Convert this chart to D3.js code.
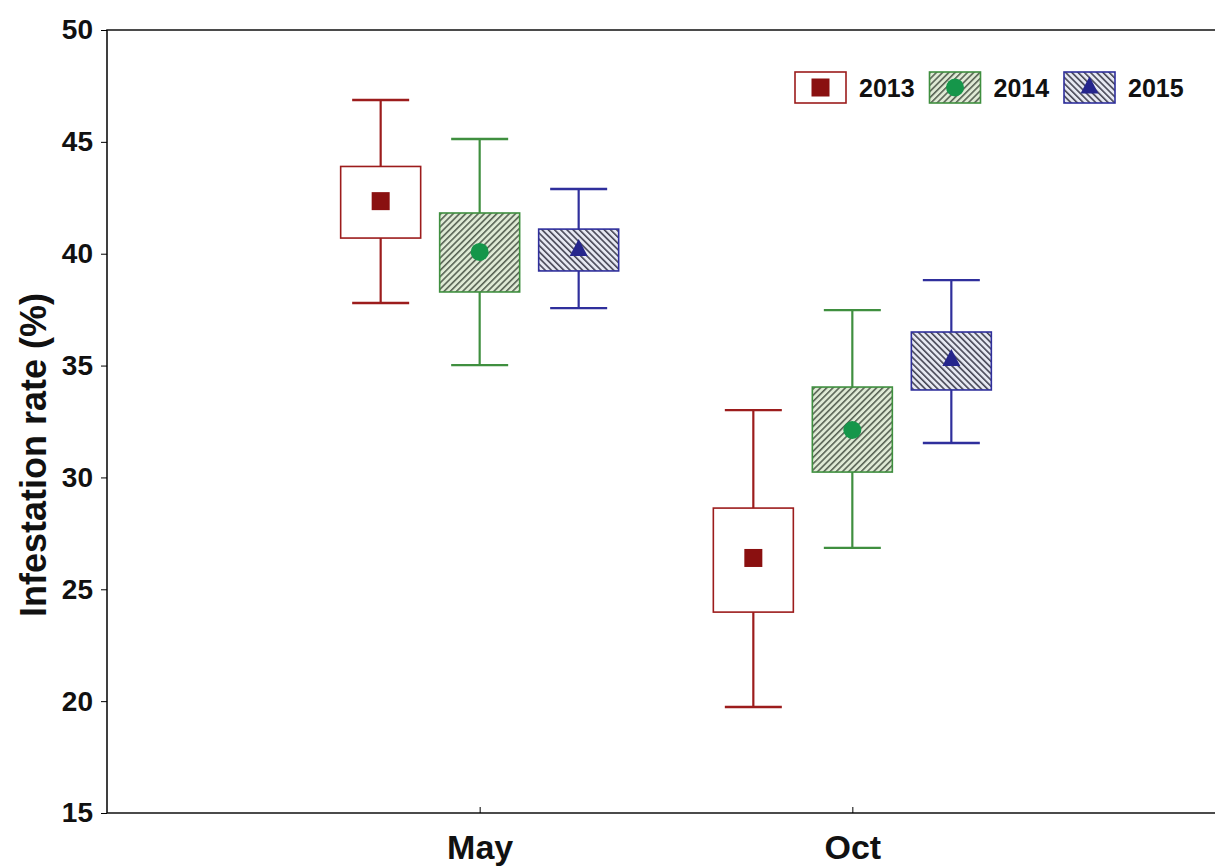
<!DOCTYPE html>
<html>
<head>
<meta charset="utf-8">
<script src="https://cdn.jsdelivr.net/npm/d3@7"></script>
<style>
  body { margin: 0; background: #fff; }
  svg text { font-family: 'Liberation Sans', Arial, sans-serif; font-weight: bold; fill: #111; }
</style>
</head>
<body>
<div id="chart"></div>
<script>
const months      = ['May', 'Oct']
const years       = ['2013', '2014', '2015']
const yTicks      = [15, 20, 25, 30, 35, 40, 45, 50]
// [month][year]
const meanVals    = [[42.35, 40.08, 40.17], [26.40, 32.12, 35.25]]
const boxTop      = [[43.90, 41.82, 41.10], [28.63, 34.04, 36.50]]
const boxBottom   = [[40.70, 38.29, 39.23], [23.98, 30.24, 33.91]]
const whiskTop    = [[46.87, 45.13, 42.89], [33.01, 37.48, 38.82]]
const whiskBottom = [[37.80, 35.02, 37.57], [19.74, 26.85, 31.54]]

const strokes = ['#9c1c1c', '#3f8f3f', '#2f2f9c'],
      marks   = ['#8a1010', '#15964a', '#25258c'],
      fills   = ['#ffffff', 'url(#hatch-green)', 'url(#hatch-blue)']

function _patterns(defs) {
  let μ = [{ id: 'hatch-green', bg: '#dfead5', line: '#4f5a4c', angle: 45 },
           { id: 'hatch-blue',  bg: '#e6e8f2', line: '#3a3a4a', angle: -45 }]
  μ.forEach((p) => {
    let π = defs.append('pattern')
      .attr('id', p.id).attr('patternUnits', 'userSpaceOnUse')
      .attr('width', 4.4).attr('height', 4.4)
      .attr('patternTransform', `rotate(${p.angle})`)
    π.append('rect').attr('width', 4.4).attr('height', 4.4).attr('fill', p.bg)
    π.append('line').attr('x1', 0.8).attr('y1', 0).attr('x2', 0.8).attr('y2', 4.4)
      .attr('stroke', p.line).attr('stroke-width', 1.5)
  })
}

function _marker(g, ι, cx, cy) {
  if (ι === 0)
    return g.append('rect').attr('x', cx - 9).attr('y', cy - 9)
      .attr('width', 18).attr('height', 18).attr('fill', marks[0])
  if (ι === 1)
    return g.append('circle').attr('cx', cx).attr('cy', cy).attr('r', 9).attr('fill', marks[1])
  g.append('path').attr('fill', marks[2])
    .attr('d', `M${cx},${cy - 11}L${cx + 9},${cy + 6}L${cx - 9},${cy + 6}Z`)
}

function init(selector) {
  let W = 1215, H = 867,
      svg = d3.select(selector).append('svg').attr('width', W).attr('height', H),
      x   = d3.scalePoint().domain(months).range([107, 1225]).padding(1),
      xi  = d3.scalePoint().domain(years).range([-99, 99]),
      y   = d3.scaleLinear().domain([15, 50]).range([813, 30]),
      boxW = 80, capW = 57

  _patterns(svg.append('defs'))

  // frame (right edge falls outside the picture)
  svg.append('path').attr('fill', 'none').attr('stroke', '#111').attr('stroke-width', 1.6)
    .attr('d', `M${W + 5},${y(50)}H107V${y(15)}H${W + 5}`)

  let yAxis = svg.append('g').attr('transform', 'translate(107,0)')
    .call(d3.axisLeft(y).tickValues(yTicks).tickSize(6).tickPadding(8))
  yAxis.select('.domain').remove()
  yAxis.selectAll('text').style('font-size', '28px').attr('fill', '#111')

  let xAxis = svg.append('g').attr('transform', `translate(0,${y(15)})`)
    .call(d3.axisBottom(x).tickSize(-6).tickPadding(22))
  xAxis.select('.domain').remove()
  xAxis.selectAll('text').style('font-size', '34px').attr('fill', '#111')

  svg.append('text').attr('transform', 'translate(46,455) rotate(-90)')
    .attr('text-anchor', 'middle').style('font-size', '36px').text('Infestation rate (%)')

  months.forEach((m, μ) => {
    years.forEach((yr, ι) => {
      let cx = x(m) + xi(yr),
          g  = svg.append('g'),
          s  = strokes[ι]
      g.append('line').attr('x1', cx).attr('x2', cx)
        .attr('y1', y(whiskTop[μ][ι])).attr('y2', y(whiskBottom[μ][ι]))
        .attr('stroke', s).attr('stroke-width', 2.2)
      ;[whiskTop[μ][ι], whiskBottom[μ][ι]].forEach((v) => {
        g.append('line').attr('x1', cx - capW / 2).attr('x2', cx + capW / 2)
          .attr('y1', y(v)).attr('y2', y(v)).attr('stroke', s).attr('stroke-width', 2.4)
      })
      g.append('rect').attr('x', cx - boxW / 2).attr('y', y(boxTop[μ][ι]))
        .attr('width', boxW).attr('height', y(boxBottom[μ][ι]) - y(boxTop[μ][ι]))
        .attr('fill', fills[ι]).attr('stroke', s).attr('stroke-width', 1.6)
      _marker(g, ι, cx, y(meanVals[μ][ι]))
    })
  })

  // legend
  let lg = svg.append('g').attr('transform', 'translate(795,72)')
  years.forEach((yr, ι) => {
    let g = lg.append('g').attr('transform', `translate(${ι * 134.5},0)`)
    g.append('rect').attr('width', 51).attr('height', 31)
      .attr('fill', fills[ι]).attr('stroke', strokes[ι]).attr('stroke-width', 1.6)
    _marker(g, ι, 25.5, 15.5)
    g.append('text').attr('x', 64).attr('y', 25).style('font-size', '25px').text(yr)
  })
}

init('#chart')
</script>
</body>
</html>
